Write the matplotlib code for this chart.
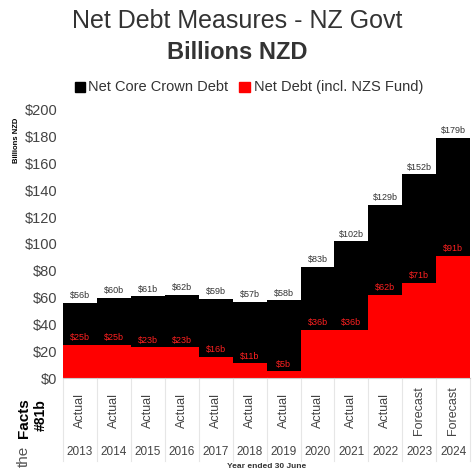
import matplotlib
matplotlib.use("Agg")
import matplotlib.pyplot as plt
import numpy as np
plt.rcParams['font.family'] = ['Liberation Sans', 'DejaVu Sans']

years = ["2013","2014","2015","2016","2017","2018","2019","2020","2021","2022","2023","2024"]
status = ["Actual"]*10 + ["Forecast"]*2
core = [56,60,61,62,59,57,58,83,102,129,152,179]
net = [25,25,23,23,16,11,5,36,36,62,71,91]

fig = plt.figure(figsize=(4.74,4.74), dpi=100)
ax = fig.add_axes([0.133,0.2025,0.859,0.5655])
x = np.arange(len(years))
ax.bar(x, core, width=1.0, color="black")
ax.bar(x, net, width=1.0, color="#ff0000")
for i in x:
    ax.text(i, core[i]+2, f"${core[i]}b", ha="center", va="bottom", fontsize=6.5, color="#333333")
    ax.text(i, net[i]+2, f"${net[i]}b", ha="center", va="bottom", fontsize=6.5, color="#ff2020")
ax.set_xlim(-0.5, len(years)-0.5)
ax.set_ylim(0,200)
ax.set_yticks(range(0,201,20))
ax.set_yticklabels([f"${v}" for v in range(0,201,20)], fontsize=10.5, color="#444444")
ax.set_xticks([])
for s in ["top","right","left"]:
    ax.spines[s].set_visible(False)
ax.spines["bottom"].set_color("#cccccc")
ax.tick_params(axis="y", length=0, pad=4)
ax.text(-0.115, 0.97, "Billions NZD", rotation=90, ha="center", va="top", fontsize=5.5, fontweight="bold", transform=ax.transAxes)

tr = ax.get_xaxis_transform()
for i in x:
    ax.text(i, -0.12, status[i], rotation=90, ha="center", va="center", fontsize=9, color="#444444", transform=tr)
    ax.text(i, -0.275, years[i], ha="center", va="center", fontsize=8.5, color="#444444", transform=tr)
for b in np.arange(-0.5, len(years)):
    ax.plot([b,b],[0,-0.31], color="#e6e6e6", lw=0.8, transform=tr, clip_on=False)
ax.text(0.5, -0.33, "Year ended 30 June", ha="center", va="center", fontsize=6, fontweight="bold", color="#333333", transform=ax.transAxes)

fig.text(0.5, 0.955, "Net Debt Measures - NZ Govt", ha="center", va="center", fontsize=18, color="#333333")
fig.text(0.5, 0.89, "Billions NZD", ha="center", va="center", fontsize=17, fontweight="bold", color="#333333")
fig.patches.append(plt.Rectangle((0.158,0.806),0.022,0.022, color="black", transform=fig.transFigure))
fig.text(0.186, 0.817, "Net Core Crown Debt", va="center", fontsize=10.5, color="#333333")
fig.patches.append(plt.Rectangle((0.505,0.806),0.022,0.022, color="#ff0000", transform=fig.transFigure))
fig.text(0.535, 0.817, "Net Debt (incl. NZS Fund)", va="center", fontsize=10.5, color="#333333")

fig.text(0.05, 0.015, "the", rotation=90, ha="center", va="bottom", fontsize=11, color="#555555")
fig.text(0.05, 0.075, "Facts", rotation=90, ha="center", va="bottom", fontsize=11, fontweight="bold", color="black")
fig.text(0.085, 0.09, "#81b", rotation=90, ha="center", va="bottom", fontsize=10, fontweight="bold", color="black")
fig.savefig("out.png", dpi=100)
